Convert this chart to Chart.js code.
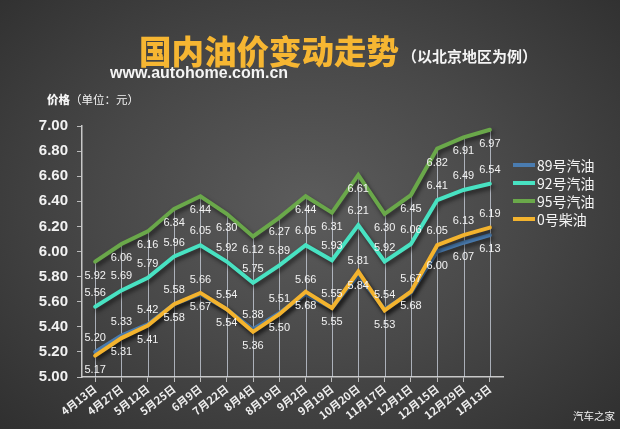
<!DOCTYPE html>
<html>
<head>
<meta charset="utf-8">
<script src="https://cdn.jsdelivr.net/npm/chart.js@4.4.0/dist/chart.umd.min.js"></script>
<style>
  html, body { margin: 0; padding: 0; }
  body {
    width: 620px; height: 429px; overflow: hidden; position: relative;
    background: radial-gradient(ellipse 75% 80% at 50% 48%, #5c5c5c 0%, #484848 45%, #2c2c2c 100%);
    font-family: "Noto Sans CJK SC", "Noto Sans", sans-serif; color: #f4f4f4;
  }
  #chart { position: absolute; left: 0; top: 0; }
  .txt { position: absolute; white-space: nowrap; line-height: 1; }
  #title { left: 139px; top: 34px; font-size: 32.5px; font-weight: 900; color: #f6b632; }
  #sub { left: 402px; top: 48px; font-size: 15px; font-weight: bold; color: #f4f4f4; }
  #site { left: 110px; top: 65px; font-family: "Liberation Sans", Arial, sans-serif; font-size: 16px; font-weight: bold; }
  #unit { left: 47px; top: 94px; font-size: 11.5px; }
  #unit b { font-weight: 900; }
  #brand { left: 573px; top: 411px; font-size: 10.5px; color: #f0f0f0; }
  #legend { position: absolute; left: 513px; top: 156px; }
  .item { display: flex; align-items: center; height: 18px; font-size: 14px; }
  .swatch { width: 22px; height: 4px; margin-right: 2px; }
</style>
</head>
<body>
<canvas id="chart" width="620" height="429"></canvas>
<div class="txt" id="title">国内油价变动走势</div>
<div class="txt" id="sub">（以北京地区为例）</div>
<div class="txt" id="site">www.autohome.com.cn</div>
<div class="txt" id="unit"><b>价格</b>（单位：元）</div>
<div class="txt" id="brand">汽车之家</div>
<div id="legend"></div>
<script>
// 数据
const dates = ['4月13日', '4月27日', '5月12日', '5月25日', '6月9日', '7月22日', '8月4日', '8月19日',
  '9月2日', '9月19日', '10月20日', '11月17日', '12月1日', '12月15日', '12月29日', '1月13日'];
const p89 = [5.20, 5.33, 5.42, 5.58, 5.66, 5.54, 5.38, 5.51, 5.66, 5.55, 5.81, 5.54, 5.67, 6.00, 6.07, 6.13];
const p92 = [5.56, 5.69, 5.79, 5.96, 6.05, 5.92, 5.75, 5.89, 6.05, 5.93, 6.21, 5.92, 6.06, 6.41, 6.49, 6.54];
const p95 = [5.92, 6.06, 6.16, 6.34, 6.44, 6.30, 6.12, 6.27, 6.44, 6.31, 6.61, 6.30, 6.45, 6.82, 6.91, 6.97];
const p0 = [5.17, 5.31, 5.41, 5.58, 5.67, 5.54, 5.36, 5.50, 5.68, 5.55, 5.84, 5.53, 5.68, 6.05, 6.13, 6.19];
const seriesNames = ['89号汽油', '92号汽油', '95号汽油', '0号柴油'];
const seriesColors = ['#4a7cb0', '#48e2c2', '#6aa84a', '#f3b32e'];

// 图例
document.getElementById('legend').innerHTML = seriesNames.map((n, i) =>
  `<div class="item"><span class="swatch" style="background:${seriesColors[i]}"></span>${n}</div>`).join('');

// 89 与柴油标签上下位置：柴油明显高于89时互换
function side89(i) { return (p0[i] - p89[i] > 0.045) ? 1 : -1; }

const dropLines = {
  id: 'dropLines',
  beforeDatasetsDraw(chart) {
    const { ctx, scales: { x, y } } = chart;
    ctx.save();
    ctx.strokeStyle = 'rgba(215,222,235,0.7)';
    ctx.lineWidth = 1;
    dates.forEach((d, i) => {
      const top = Math.max(...chart.data.datasets.map(ds => ds.data[i]));
      const px = Math.round(x.getPixelForValue(i)) + 0.5;
      ctx.beginPath();
      ctx.moveTo(px, y.getPixelForValue(top));
      ctx.lineTo(px, y.bottom);
      ctx.stroke();
    });
    ctx.restore();
  }
};

const lineShadow = {
  id: 'lineShadow',
  beforeDatasetDraw(chart) {
    const ctx = chart.ctx;
    ctx.save();
    ctx.shadowColor = 'rgba(0,0,0,0.55)';
    ctx.shadowBlur = 4;
    ctx.shadowOffsetX = 2;
    ctx.shadowOffsetY = 3;
  },
  afterDatasetDraw(chart) { chart.ctx.restore(); }
};

const valueLabels = {
  id: 'valueLabels',
  afterDatasetsDraw(chart) {
    const ctx = chart.ctx;
    ctx.save();
    ctx.font = '11px "Liberation Sans", sans-serif';
    ctx.fillStyle = '#f2f2f2';
    ctx.textAlign = 'center';
    ctx.textBaseline = 'middle';
    chart.data.datasets.forEach((ds, di) => {
      const meta = chart.getDatasetMeta(di);
      meta.data.forEach((pt, i) => {
        const s = ds.labelSide(i);
        ctx.fillText(ds.data[i].toFixed(2), pt.x, pt.y + s * 14);
      });
    });
    ctx.restore();
  }
};

new Chart(document.getElementById('chart'), {
  type: 'line',
  data: {
    labels: dates,
    datasets: [
      { label: seriesNames[0], data: p89, borderColor: seriesColors[0], order: 1, labelSide: i => side89(i) },
      { label: seriesNames[1], data: p92, borderColor: seriesColors[1], order: 1, labelSide: () => -1 },
      { label: seriesNames[2], data: p95, borderColor: seriesColors[2], order: 1, labelSide: () => 1 },
      { label: seriesNames[3], data: p0, borderColor: seriesColors[3], order: 0, labelSide: i => -side89(i) }
    ]
  },
  options: {
    responsive: false,
    animation: false,
    layout: { padding: { top: 126, right: 117, left: 0, bottom: 0 } },
    plugins: { legend: { display: false }, tooltip: { enabled: false } },
    elements: { point: { radius: 0 }, line: { borderWidth: 4, tension: 0, borderCapStyle: 'round' } },
    scales: {
      x: {
        offset: true,
        grid: { drawOnChartArea: false, color: '#bdbdbd', tickLength: 5 },
        border: { color: '#c8c8c8', width: 1.5 },
        ticks: {
          color: '#eeeeee', autoSkip: false, maxRotation: 38, minRotation: 38, padding: 0,
          font: { family: '"Noto Sans CJK SC"', size: 11, weight: 'bold' }
        },
        afterFit(s) { s.height = 52; }
      },
      y: {
        min: 5, max: 7,
        ticks: {
          stepSize: 0.2, padding: 9, color: '#f2f2f2',
          callback: v => v.toFixed(2),
          font: { family: '"Liberation Sans"', size: 15, weight: 'bold' }
        },
        grid: { drawOnChartArea: false, color: '#bdbdbd', tickLength: 5 },
        border: { color: '#c8c8c8', width: 1.5 },
        afterFit(s) { s.width = 82; }
      }
    }
  },
  plugins: [dropLines, lineShadow, valueLabels]
});
</script>
</body>
</html>
